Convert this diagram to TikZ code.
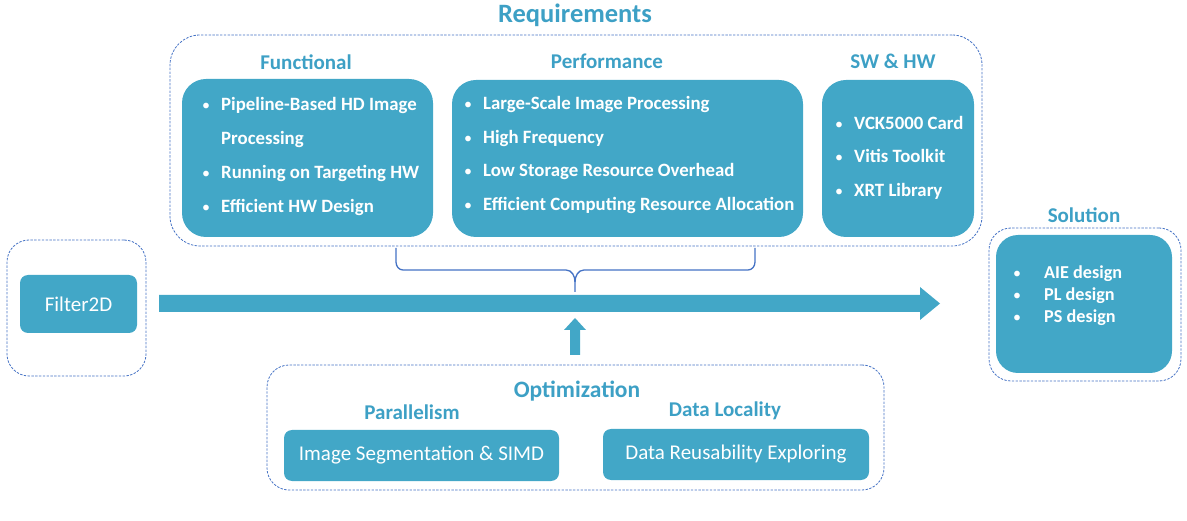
\documentclass[tikz,border=0pt]{standalone}
\usepackage{fontspec}
\setmainfont{Carlito}
\definecolor{boxblue}{RGB}{66,167,199}
\definecolor{titleblue}{RGB}{61,160,197}
\definecolor{dashblue}{RGB}{68,114,196}
\begin{document}
\begin{tikzpicture}[x=1pt,y=-1pt,
  dashbox/.style={draw=dashblue, line width=0.8pt, dash pattern=on 2.4pt off 1.4pt, inner sep=0pt},
  fillbox/.style={fill=boxblue, inner sep=0pt},
  ttl/.style={text=titleblue, font=\bfseries\fontsize{21}{24}\selectfont, inner sep=0pt},
  itm/.style={text=white, font=\bfseries\fontsize{18.8}{22}\selectfont, anchor=base west, inner sep=0pt},
  sitm/.style={text=white, font=\bfseries\fontsize{18.2}{22}\selectfont, anchor=base west, inner sep=0pt},
  bul/.style={text=white, font=\fontsize{16}{20}\selectfont, anchor=base, inner sep=0pt},
  plain/.style={text=white, font=\fontsize{21}{25}\selectfont, inner sep=0pt},
  brace/.style={draw=dashblue, line width=1.3pt}
]
\useasboundingbox (0,0) rectangle (1187,521);

% Requirements group
\node[dashbox, rounded corners=30pt, minimum width=812pt, minimum height=211pt] (req) at (576,140.5) {};
\node[ttl, font=\bfseries\fontsize{26.5}{30}\selectfont] (reqt) at (575,15.5) {Requirements};

\node[fillbox, rounded corners=24pt, minimum width=251pt, minimum height=158pt] (fun) at (307.5,158) {};
\node[ttl] (funt) at (306,62.5) {Functional};
\node[bul] (fb1) at (206,111) {\textbullet};
\node[itm] (f1) at (221,111) {Pipeline-Based HD Image};
\node[itm] (f1b) at (221,145) {Processing};
\node[bul] (fb2) at (206,179) {\textbullet};
\node[itm] (f2) at (221,179) {Running on Targeting HW};
\node[bul] (fb3) at (206,213) {\textbullet};
\node[itm] (f3) at (221,213) {Efficient HW Design};

\node[fillbox, rounded corners=24pt, minimum width=351pt, minimum height=157pt] (perf) at (627.5,158.5) {};
\node[ttl] (perft) at (607,61.5) {Performance};
\node[bul] (pb1) at (468,110) {\textbullet};
\node[itm] (p1) at (483,110) {Large-Scale Image Processing};
\node[bul] (pb2) at (468,144) {\textbullet};
\node[itm] (p2) at (483,144) {High Frequency};
\node[bul] (pb3) at (468,177) {\textbullet};
\node[itm] (p3) at (483,177) {Low Storage Resource Overhead};
\node[bul] (pb4) at (468,211) {\textbullet};
\node[itm] (p4) at (483,211) {Efficient Computing Resource Allocation};

\node[fillbox, rounded corners=24pt, minimum width=152pt, minimum height=157pt] (sw) at (898,158.5) {};
\node[ttl] (swt) at (893,61.5) {SW \& HW};
\node[bul] (sb1) at (839,130) {\textbullet};
\node[itm] (s1) at (854,130) {VCK5000 Card};
\node[bul] (sb2) at (839,163) {\textbullet};
\node[itm] (s2) at (854,163) {Vitis Toolkit};
\node[bul] (sb3) at (839,197) {\textbullet};
\node[itm] (s3) at (854,197) {XRT Library};

% brace
\coordinate (brL) at (396,248);
\coordinate (brR) at (755,248);
\coordinate (brT) at (575,292);
\draw[brace] (brL) -- (396,262) to[out=-90,in=180] (403,270) -- (566,270) to[out=0,in=90] (575,282) -- (brT);
\draw[brace] (brR) -- (755,262) to[out=-90,in=0] (748,270) -- (584,270) to[out=180,in=90] (575,282);

% Filter2D
\node[dashbox, rounded corners=22pt, minimum width=139pt, minimum height=136pt] (fgrp) at (76.5,308) {};
\node[fillbox, rounded corners=8pt, minimum width=117pt, minimum height=58pt] (filt) at (78.5,304) {};
\node[plain] at (filt) {Filter2D};

% main arrow
\coordinate (arS) at (159,303.5);
\coordinate (arE) at (940,303.5);
\fill[boxblue] (arS) ++(0,-8.5) -- (920,295) -- (920,287) -- (arE) -- (920,320) -- (920,312) -- (159,312) -- cycle;

% up arrow
\coordinate (upB) at (575,355);
\coordinate (upT) at (575,318);
\fill[boxblue] (upB) ++(-5,0) -- (570,330) -- (564,330) -- (upT) -- (586,330) -- (580,330) -- (580,355) -- cycle;

% Solution
\node[ttl] (solt) at (1084,215) {Solution};
\node[dashbox, rounded corners=22pt, minimum width=192pt, minimum height=153pt] (sgrp) at (1085,304.5) {};
\node[fillbox, rounded corners=22pt, minimum width=176pt, minimum height=138pt] (sol) at (1084,304) {};
\node[bul] (ob1) at (1017,279) {\textbullet};
\node[sitm] (o1) at (1044,279) {AIE design};
\node[bul] (ob2) at (1017,301) {\textbullet};
\node[sitm] (o2) at (1044,301) {PL design};
\node[bul] (ob3) at (1017,323) {\textbullet};
\node[sitm] (o3) at (1044,323) {PS design};

% Optimization
\node[dashbox, rounded corners=22pt, minimum width=617pt, minimum height=125pt] (opt) at (575.5,427.5) {};
\node[ttl, font=\bfseries\fontsize{23.5}{27}\selectfont] (optt) at (577,391.5) {Optimization};
\node[ttl] (part) at (412,412.5) {Parallelism};
\node[ttl] (dlt) at (725,410.5) {Data Locality};
\node[fillbox, rounded corners=8pt, minimum width=275pt, minimum height=51pt] (seg) at (421.5,455.5) {};
\node[plain] at (seg) {Image Segmentation \& SIMD};
\node[fillbox, rounded corners=8pt, minimum width=266pt, minimum height=51pt] (reu) at (736,454.5) {};
\node[plain] at (reu) {Data Reusability Exploring};
\end{tikzpicture}
\end{document}
